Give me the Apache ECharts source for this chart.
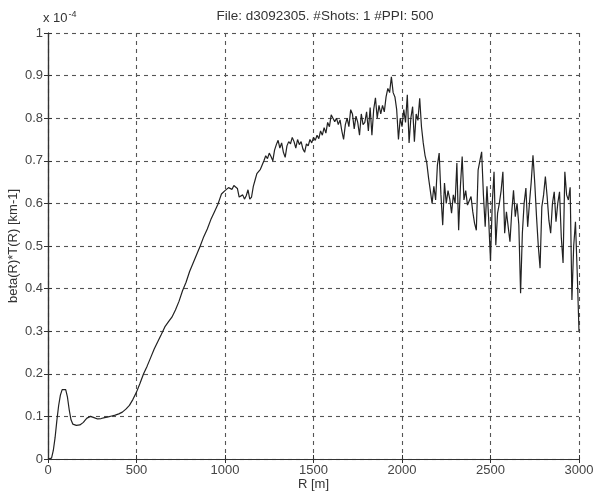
<!DOCTYPE html>
<html>
<head>
<meta charset="utf-8">
<script src="https://cdn.jsdelivr.net/npm/echarts@6/dist/echarts.min.js"></script>
<style>
  html, body { margin: 0; padding: 0; background: #ffffff; }
  #chart { width: 599px; height: 493px; }
</style>
</head>
<body>
<div id="chart"></div>
<script>
// Lidar return profile, beta(R)*T(R) in units of 1e-4 km-1, range R in metres.
const nearField = [
  [0, 0], [10, 0], [20, 0.002], [30, 0.02], [40, 0.05], [50, 0.09], [60, 0.125],
  [70, 0.15], [80, 0.163], [90, 0.167], [100, 0.163], [110, 0.145], [120, 0.115],
  [130, 0.092], [140, 0.082], [150, 0.08], [160, 0.079], [170, 0.079], [180, 0.08],
  [190, 0.082], [200, 0.086], [210, 0.091], [220, 0.096], [230, 0.099], [240, 0.1],
  [250, 0.099], [260, 0.097], [270, 0.095], [280, 0.094], [290, 0.094], [300, 0.095],
  [320, 0.097], [340, 0.099], [360, 0.101], [380, 0.103], [400, 0.106], [420, 0.11],
  [440, 0.117], [460, 0.126], [480, 0.14], [500, 0.157]
];
const riseSegment = [
  [520, 0.178], [540, 0.2], [560, 0.218], [580, 0.238], [600, 0.258], [620, 0.275],
  [640, 0.292], [660, 0.31], [680, 0.322], [700, 0.333], [720, 0.35], [740, 0.37],
  [760, 0.395], [780, 0.415], [800, 0.44], [820, 0.46], [840, 0.48], [860, 0.5],
  [880, 0.522], [900, 0.54], [920, 0.562], [940, 0.58], [960, 0.598], [970, 0.61],
  [980, 0.622], [990, 0.62], [1000, 0.63], [1010, 0.628], [1020, 0.637], [1030, 0.64],
  [1040, 0.633], [1050, 0.642], [1060, 0.64], [1070, 0.635], [1080, 0.615], [1090, 0.612],
  [1100, 0.62], [1110, 0.61], [1120, 0.618], [1130, 0.632], [1140, 0.61], [1150, 0.615],
  [1160, 0.64], [1170, 0.655], [1180, 0.67], [1190, 0.668], [1200, 0.68]
];
const plateauSegment = [
  [1210, 0.69], [1220, 0.7], [1230, 0.712], [1240, 0.705], [1250, 0.718], [1260, 0.71],
  [1270, 0.7], [1280, 0.725], [1290, 0.738], [1300, 0.748], [1310, 0.73], [1320, 0.742],
  [1330, 0.72], [1340, 0.708], [1350, 0.735], [1360, 0.745], [1370, 0.74], [1380, 0.755],
  [1390, 0.745], [1400, 0.73], [1410, 0.75], [1420, 0.738], [1430, 0.745], [1440, 0.728],
  [1450, 0.72], [1460, 0.74], [1470, 0.735], [1480, 0.75], [1490, 0.742], [1500, 0.755],
  [1510, 0.748], [1520, 0.76], [1530, 0.752], [1540, 0.77], [1550, 0.76], [1560, 0.778],
  [1570, 0.765], [1580, 0.79], [1590, 0.78], [1600, 0.808], [1610, 0.8], [1620, 0.792],
  [1630, 0.8], [1640, 0.785], [1650, 0.796], [1660, 0.77], [1670, 0.75], [1680, 0.785],
  [1690, 0.8], [1700, 0.78], [1710, 0.82], [1720, 0.81], [1730, 0.775], [1740, 0.805],
  [1750, 0.79], [1760, 0.76], [1770, 0.81], [1780, 0.785], [1790, 0.79], [1800, 0.815],
  [1810, 0.77], [1820, 0.825], [1830, 0.76], [1840, 0.82], [1850, 0.848], [1860, 0.8],
  [1870, 0.83], [1880, 0.81], [1890, 0.83], [1900, 0.815], [1910, 0.85], [1920, 0.87],
  [1930, 0.86], [1940, 0.897], [1950, 0.86], [1960, 0.85], [1970, 0.82], [1980, 0.75],
  [1990, 0.8], [2000, 0.78], [2010, 0.82], [2020, 0.79], [2030, 0.855], [2040, 0.742],
  [2050, 0.8], [2060, 0.827], [2070, 0.745], [2080, 0.81], [2090, 0.795], [2100, 0.847]
];
const farSegment = [
  [2110, 0.78], [2120, 0.742], [2130, 0.713], [2140, 0.695], [2150, 0.66], [2160, 0.63],
  [2170, 0.6], [2180, 0.64], [2190, 0.608], [2200, 0.69], [2210, 0.718], [2220, 0.62],
  [2230, 0.549], [2240, 0.648], [2250, 0.6], [2260, 0.63], [2270, 0.61], [2280, 0.577],
  [2290, 0.62], [2300, 0.6], [2310, 0.695], [2320, 0.537], [2330, 0.64], [2340, 0.71],
  [2350, 0.608], [2360, 0.63], [2370, 0.596], [2380, 0.6], [2390, 0.616], [2400, 0.58],
  [2410, 0.553], [2420, 0.537], [2430, 0.678], [2440, 0.7], [2450, 0.721], [2460, 0.62],
  [2470, 0.545], [2480, 0.64], [2490, 0.56], [2500, 0.465], [2510, 0.6], [2520, 0.674],
  [2530, 0.502], [2540, 0.577], [2550, 0.6], [2560, 0.63], [2570, 0.674], [2580, 0.53],
  [2590, 0.58], [2600, 0.577], [2610, 0.51], [2620, 0.58], [2630, 0.631], [2640, 0.569],
  [2650, 0.6], [2660, 0.55], [2670, 0.389], [2680, 0.53], [2690, 0.6], [2700, 0.636],
  [2710, 0.545], [2720, 0.6], [2730, 0.65], [2740, 0.713], [2750, 0.648], [2760, 0.569],
  [2770, 0.5], [2780, 0.448], [2790, 0.592], [2800, 0.62], [2810, 0.663], [2820, 0.616],
  [2830, 0.56], [2840, 0.53], [2850, 0.6], [2860, 0.627], [2870, 0.557], [2880, 0.6],
  [2890, 0.627], [2900, 0.52], [2910, 0.46], [2920, 0.674], [2930, 0.62], [2940, 0.608],
  [2950, 0.638], [2960, 0.373], [2970, 0.5], [2980, 0.557], [2990, 0.436], [3000, 0.3]
];
const xTicks = [0, 500, 1000, 1500, 2000, 2500, 3000];
const yTicks = [0, 0.1, 0.2, 0.3, 0.4, 0.5, 0.6, 0.7, 0.8, 0.9, 1];

const profile = nearField.concat(riseSegment, plateauSegment, farSegment);

const FONT = 'Liberation Sans, Arial, sans-serif';
const INK = '#333333';
const GRID_INK = '#555555';

const chart = echarts.init(document.getElementById('chart'), null, { renderer: 'canvas' });

const frameAxis = (extra) => Object.assign({
  type: 'value',
  axisLine: { show: true, lineStyle: { color: INK, width: 1.2 } },
  axisTick: { show: true, inside: true, length: 4, lineStyle: { color: INK } },
  axisLabel: { show: false },
  splitLine: { show: false }
}, extra);

chart.setOption({
  backgroundColor: '#ffffff',
  animation: false,
  title: {
    text: 'File: d3092305. #Shots: 1 #PPI: 500',
    left: 320,
    textAlign: 'center',
    top: 4,
    textStyle: { fontFamily: FONT, fontSize: 13.5, fontWeight: 'normal', color: '#333' }
  },
  grid: { left: 48, right: 20, top: 33, bottom: 34, containLabel: false, outerBoundsMode: 'none' },
  xAxis: [
    frameAxis({
      position: 'bottom', min: 0, max: 3000, interval: 500,
      axisLabel: {
        show: true, fontFamily: FONT, fontSize: 13, color: '#444', margin: 5,
        formatter: (v) => xTicks.includes(v) ? String(v) : ''
      },
      splitLine: { show: true, lineStyle: { color: GRID_INK, type: [4, 4], width: 1.1 } },
      name: 'R [m]', nameLocation: 'middle', nameGap: 19, nameMoveOverlap: false,
      nameTextStyle: { fontFamily: FONT, fontSize: 13, color: '#333' }
    }),
    frameAxis({ position: 'top', min: 0, max: 3000, interval: 500 })
  ],
  yAxis: [
    frameAxis({
      position: 'left', min: 0, max: 1, interval: 0.1,
      axisLabel: {
        show: true, fontFamily: FONT, fontSize: 13, color: '#444', margin: 5,
        formatter: (v) => {
          const r = Math.round(v * 10) / 10;
          return yTicks.includes(r) ? String(r) : '';
        }
      },
      splitLine: { show: true, lineStyle: { color: GRID_INK, type: [4, 4], width: 1.1 } },
      name: 'beta(R)*T(R) [km-1]', nameLocation: 'middle', nameGap: 28, nameRotate: 90,
      nameMoveOverlap: false,
      nameTextStyle: { fontFamily: FONT, fontSize: 13, color: '#333' }
    }),
    frameAxis({ position: 'right', min: 0, max: 1, interval: 0.1 })
  ],
  graphic: [{
    type: 'text',
    left: 43,
    top: 10,
    style: {
      text: '{b|x 10}{s|-4}',
      rich: {
        b: { fontFamily: FONT, fontSize: 13, fill: '#333', verticalAlign: 'bottom' },
        s: { fontFamily: FONT, fontSize: 9, fill: '#333', verticalAlign: 'top', padding: [0, 0, 6, 1] }
      }
    }
  }],
  series: [{
    type: 'line',
    data: profile,
    xAxisIndex: 0,
    yAxisIndex: 0,
    showSymbol: false,
    smooth: false,
    lineStyle: { color: '#222222', width: 1.2 },
    z: 5
  }]
});
</script>
</body>
</html>
